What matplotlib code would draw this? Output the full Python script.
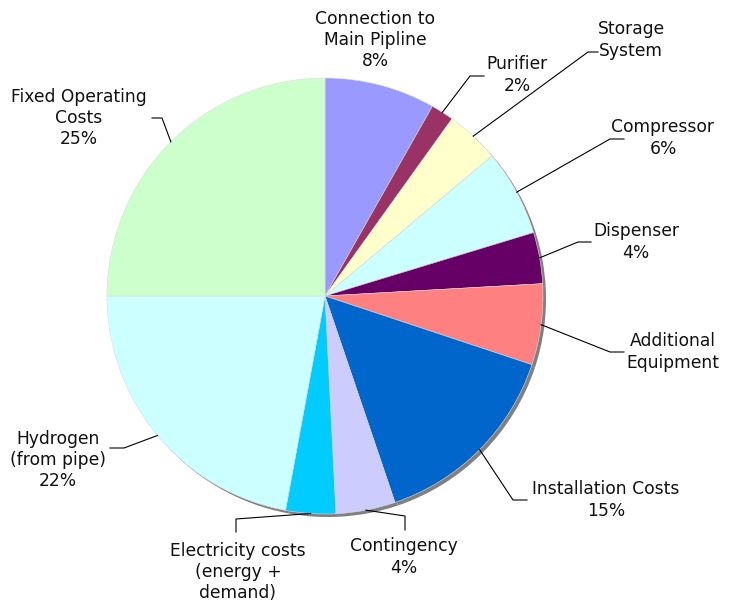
import numpy as np
import matplotlib.pyplot as plt

# cost breakdown, clockwise from 12 o'clock
categories = ['Connection to\nMain Pipline', 'Purifier', 'Storage\nSystem', 'Compressor',
              'Dispenser', 'Additional\nEquipment', 'Installation Costs', 'Contingency',
              'Electricity costs\n(energy +\ndemand)', 'Hydrogen\n(from pipe)',
              'Fixed Operating\nCosts']
shares = [8.2, 1.7, 4.0, 6.4, 3.8, 6.0, 14.7, 4.4, 3.7, 22.1, 25.0]
show_pct = [True, True, False, True, True, False, True, True, False, True, True]
colors = ['#9999FF', '#993366', '#FFFFCC', '#CCFFFF', '#660066', '#FF8080',
          '#0066CC', '#CCCCFF', '#00CCFF', '#CCFFFF', '#CCFFCC']

W, H = 733, 605
cx, cy, R = 325, 296, 218


def py(y):
    return H - y


fig = plt.figure(figsize=(W / 100, H / 100), dpi=100)
ax = fig.add_axes([0, 0, 1, 1])
ax.set_xlim(0, W)
ax.set_ylim(0, H)
ax.axis('off')

# drop shadow
ax.pie(shares, colors=['#808080'] * len(shares), startangle=90, counterclock=False,
       center=(cx + 3, py(cy + 3)), radius=R, wedgeprops=dict(linewidth=0))
wedges, _ = ax.pie(shares, colors=colors, startangle=90, counterclock=False,
                   center=(cx, py(cy)), radius=R,
                   wedgeprops=dict(linewidth=0.4, edgecolor='#dddddd'))
ax.set_xlim(0, W)
ax.set_ylim(0, H)
ax.set_aspect('equal')

# (elbow, line end, text position) in pixels; None = no leader
layout = [
    (None, None, (375, 40)),
    ((470, 76), (484, 76), (517, 75)),
    ((588, 52), (598, 52), (631, 40)),
    ((610, 139), (624, 139), (663, 138)),
    ((578, 242), (591, 242), (636, 242)),
    ((610, 352), (624, 352), (673, 352)),
    ((513, 500), (527, 500), (606, 500)),
    ((405, 516), (405, 530), (404, 557)),
    ((236, 519), (236, 532), (238, 572)),
    ((124, 448), (110, 448), (58, 460)),
    ((162, 118), (152, 118), (79, 118)),
]

for w, lab, val, sp, (elb, end, tpos) in zip(wedges, categories, shares, show_pct, layout):
    text = lab + ('\n%.0f%%' % val if sp else '')
    ax.text(tpos[0], py(tpos[1]), text, ha='center', va='center', fontsize=12.3,
            linespacing=1.25, color='#111111', family='DejaVu Sans')
    if elb is None:
        continue
    th = np.deg2rad((w.theta1 + w.theta2) / 2)
    x0 = cx + R * np.cos(th)
    y0 = py(cy) + R * np.sin(th)
    ax.plot([x0, elb[0], end[0]], [y0, py(elb[1]), py(end[1])], color='black', lw=0.8)

fig.savefig('out.png', dpi=100, facecolor='white')
